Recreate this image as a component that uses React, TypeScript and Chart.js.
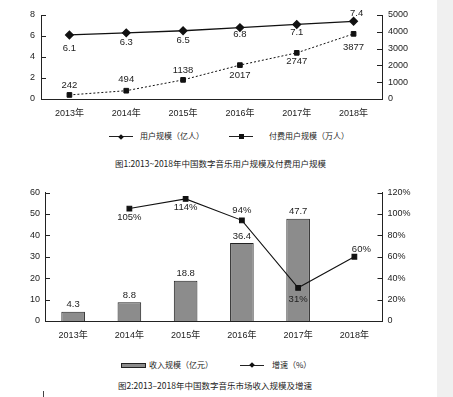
import React, { useEffect, useRef } from 'react';
import { Chart, registerables } from 'chart.js';

Chart.register(...registerables);

// ---- data ----
const years = ['2013年', '2014年', '2015年', '2016年', '2017年', '2018年'];
const userScale = [6.1, 6.3, 6.5, 6.8, 7.1, 7.4]; // 用户规模（亿人）
const paidUsers = [242, 494, 1138, 2017, 2747, 3877]; // 付费用户规模（万人）
const revenue = [4.3, 8.8, 18.8, 36.4, 47.7, null]; // 收入规模（亿元）
const growth = [null, 105, 114, 94, 31, 60]; // 增速（%）

const leftTicks1 = [0, 2, 4, 6, 8];
const rightTicks1 = [0, 1000, 2000, 3000, 4000, 5000];
const leftTicks2 = [0, 10, 20, 30, 40, 50, 60];
const rightTicks2 = [0, 20, 40, 60, 80, 100, 120];

const title1 = '图1:2013~2018年中国数字音乐用户规模及付费用户规模';
const title2 = '图2:2013–2018年中国数字音乐市场收入规模及增速';
const legend1 = ['用户规模（亿人）', '付费用户规模（万人）'];
const legend2 = ['收入规模（亿元）', '增速（%）'];

const FONT = '"Liberation Sans", "Noto Sans CJK SC", sans-serif';
const CJK = '"Noto Sans CJK SC", "Liberation Sans", sans-serif';
const INK = '#222';

// ---- plugins ----
const valueLabels = {
  id: 'valueLabels',
  afterDatasetsDraw(chart: any) {
    const ctx = chart.ctx;
    chart.data.datasets.forEach((ds: any, i: number) => {
      const cfg = ds.valueLabels;
      if (!cfg) return;
      const meta = chart.getDatasetMeta(i);
      meta.data.forEach((el: any, j: number) => {
        const v = ds.data[j];
        if (v == null) return;
        const off = cfg.offsets[j] || [0, 0];
        ctx.save();
        ctx.font = `9.5px ${FONT}`;
        ctx.fillStyle = INK;
        ctx.textAlign = 'center';
        ctx.textBaseline = 'middle';
        ctx.fillText(cfg.format(v), el.x + off[0], el.y + off[1]);
        ctx.restore();
      });
    });
  },
};

const innerTicks = {
  id: 'innerTicks',
  afterDraw(chart: any) {
    const ctx = chart.ctx;
    ctx.save();
    ctx.strokeStyle = INK;
    ctx.lineWidth = 1;
    ['y', 'y1'].forEach((id) => {
      const s = chart.scales[id];
      if (!s) return;
      s.ticks.forEach((_t: any, k: number) => {
        const y = Math.round(s.getPixelForTick(k)) + 0.5;
        const x0 = id === 'y' ? chart.chartArea.left : chart.chartArea.right;
        const x1 = id === 'y' ? x0 + 5 : x0 - 5;
        ctx.beginPath();
        ctx.moveTo(x0, y);
        ctx.lineTo(x1, y);
        ctx.stroke();
      });
    });
    ctx.restore();
  },
};

const tickFont = { family: FONT, size: 9 };

function yAxis(position: 'left' | 'right', values: number[], width: number, pad: number, fmt: (v: number) => string) {
  return {
    type: 'linear',
    position,
    min: values[0],
    max: values[values.length - 1],
    afterBuildTicks: (s: any) => {
      s.ticks = values.map((v) => ({ value: v }));
    },
    afterFit: (s: any) => {
      s.width = width;
    },
    grid: { display: false, drawTicks: false },
    border: { display: true, color: INK, width: 1 },
    ticks: { color: INK, font: tickFont, padding: pad, callback: (v: any) => fmt(Number(v)) },
  };
}

function xAxis(height: number, pad: number) {
  return {
    type: 'category',
    offset: true,
    afterFit: (s: any) => {
      s.height = height;
    },
    grid: { display: false, drawTicks: false },
    border: { display: true, color: INK, width: 1 },
    ticks: { color: INK, font: tickFont, padding: pad, maxRotation: 0, autoSkip: false },
  };
}

function ChartCanvas({ config, width, height, top }: any) {
  const ref = useRef<HTMLCanvasElement>(null);
  useEffect(() => {
    const chart = new Chart(ref.current as HTMLCanvasElement, config);
    return () => chart.destroy();
  }, []);
  return (
    <canvas
      ref={ref}
      width={width}
      height={height}
      style={{ position: 'absolute', left: 0, top, width, height }}
    />
  );
}

const config1: any = {
  type: 'line',
  data: {
    labels: years,
    datasets: [
      {
        label: legend1[0],
        data: userScale,
        yAxisID: 'y',
        borderColor: '#111',
        borderWidth: 1.3,
        pointStyle: 'rectRot',
        pointRadius: 3.8,
        pointBackgroundColor: '#111',
        pointBorderColor: '#111',
        valueLabels: {
          format: (v: number) => v.toFixed(1),
          offsets: [[0, 13], [0, 10], [0, 10], [0, 7], [0, 8], [3, -8]],
        },
      },
      {
        label: legend1[1],
        data: paidUsers,
        yAxisID: 'y1',
        borderColor: '#111',
        borderWidth: 1,
        borderDash: [2, 2],
        pointStyle: 'rect',
        pointRadius: 3.3,
        pointBackgroundColor: '#111',
        pointBorderColor: '#111',
        valueLabels: {
          format: (v: number) => String(v),
          offsets: [[0, -10], [0, -11], [0, -10], [0, 10], [0, 9], [0, 14]],
        },
      },
    ],
  },
  options: {
    responsive: false,
    animation: false,
    layout: { padding: { top: 15, left: 0, right: 0, bottom: 0 } },
    plugins: { legend: { display: false }, tooltip: { enabled: false }, title: { display: false } },
    scales: {
      x: xAxis(29, 9),
      y: yAxis('left', leftTicks1, 41, 6, (v) => String(v)),
      y1: yAxis('right', rightTicks1, 55, 6, (v) => String(v)),
    },
  },
  plugins: [valueLabels, innerTicks],
};

const config2: any = {
  type: 'bar',
  data: {
    labels: years,
    datasets: [
      {
        type: 'line',
        label: legend2[1],
        data: growth,
        yAxisID: 'y1',
        order: 0,
        borderColor: '#111',
        borderWidth: 1.1,
        pointStyle: 'rect',
        pointRadius: 3.3,
        pointBackgroundColor: '#111',
        pointBorderColor: '#111',
        valueLabels: {
          format: (v: number) => `${v}%`,
          offsets: [[0, 0], [0, 9], [0, 8], [0, -10], [0, 12], [7, -7]],
        },
      },
      {
        type: 'bar',
        label: legend2[0],
        data: revenue,
        yAxisID: 'y',
        order: 1,
        backgroundColor: '#8c8c8c',
        borderColor: '#222',
        borderWidth: 1,
        barPercentage: 0.42,
        categoryPercentage: 1,
        valueLabels: {
          format: (v: number) => String(v),
          offsets: [[0, -7], [0, -7], [0, -7], [0, -7], [0, -7], [0, -7]],
        },
      },
    ],
  },
  options: {
    responsive: false,
    animation: false,
    layout: { padding: { top: 12.5, left: 0, right: 0, bottom: 0 } },
    plugins: { legend: { display: false }, tooltip: { enabled: false }, title: { display: false } },
    scales: {
      x: xAxis(24, 9),
      y: yAxis('left', leftTicks2, 45, 5, (v) => String(v)),
      y1: yAxis('right', rightTicks2, 54.5, 5, (v) => (v === 0 ? '0' : `${v}%`)),
    },
  },
  plugins: [valueLabels, innerTicks],
};

function LineMark({ shape, left, top }: { shape: 'diamond' | 'square'; left: number; top: number }) {
  return (
    <div style={{ position: 'absolute', left, top, width: 24, height: 8 }}>
      <div style={{ position: 'absolute', left: 0, right: 0, top: 4, height: 0, borderTop: '1px solid #222' }} />
      <div
        style={{
          position: 'absolute',
          left: shape === 'diamond' ? 9.5 : 9.5,
          top: shape === 'diamond' ? 2.5 : 2,
          width: shape === 'diamond' ? 4 : 5,
          height: shape === 'diamond' ? 4 : 5,
          background: '#111',
          transform: shape === 'diamond' ? 'rotate(45deg)' : 'none',
        }}
      />
    </div>
  );
}

function Txt({ children, left, top, size = 8 }: any) {
  return (
    <div
      style={{
        position: 'absolute',
        left,
        top,
        fontFamily: CJK,
        fontSize: size,
        lineHeight: '10px',
        color: INK,
        whiteSpace: 'nowrap',
      }}
    >
      {children}
    </div>
  );
}

export default function App() {
  return (
    <div
      style={{
        position: 'absolute',
        left: 0,
        top: 0,
        width: 453,
        height: 397,
        background: '#fff',
        overflow: 'hidden',
      }}
    >
      <div style={{ position: 'absolute', left: 437, top: 0, width: 16, height: 397, background: '#f0f0f0' }} />

      <ChartCanvas config={config1} width={437} height={128} top={0} />
      <LineMark shape="diamond" left={109} top={132} />
      <Txt left={140} top={131}>{legend1[0]}</Txt>
      <LineMark shape="square" left={229} top={132} />
      <Txt left={269} top={131}>{legend1[1]}</Txt>
      <Txt left={115} top={158} size={8.5}>{title1}</Txt>

      <ChartCanvas config={config2} width={437} height={165} top={180} />
      <div
        style={{
          position: 'absolute',
          left: 121,
          top: 362.5,
          width: 23,
          height: 3,
          background: '#8c8c8c',
          border: '1px solid #222',
        }}
      />
      <Txt left={149} top={359.5}>{legend2[0]}</Txt>
      <LineMark shape="diamond" left={240} top={360.5} />
      <Txt left={272} top={359.5}>{legend2[1]}</Txt>
      <Txt left={118} top={380} size={8.5}>{title2}</Txt>

      <div style={{ position: 'absolute', left: 43, top: 391, width: 1, height: 6, background: '#444' }} />
    </div>
  );
}
